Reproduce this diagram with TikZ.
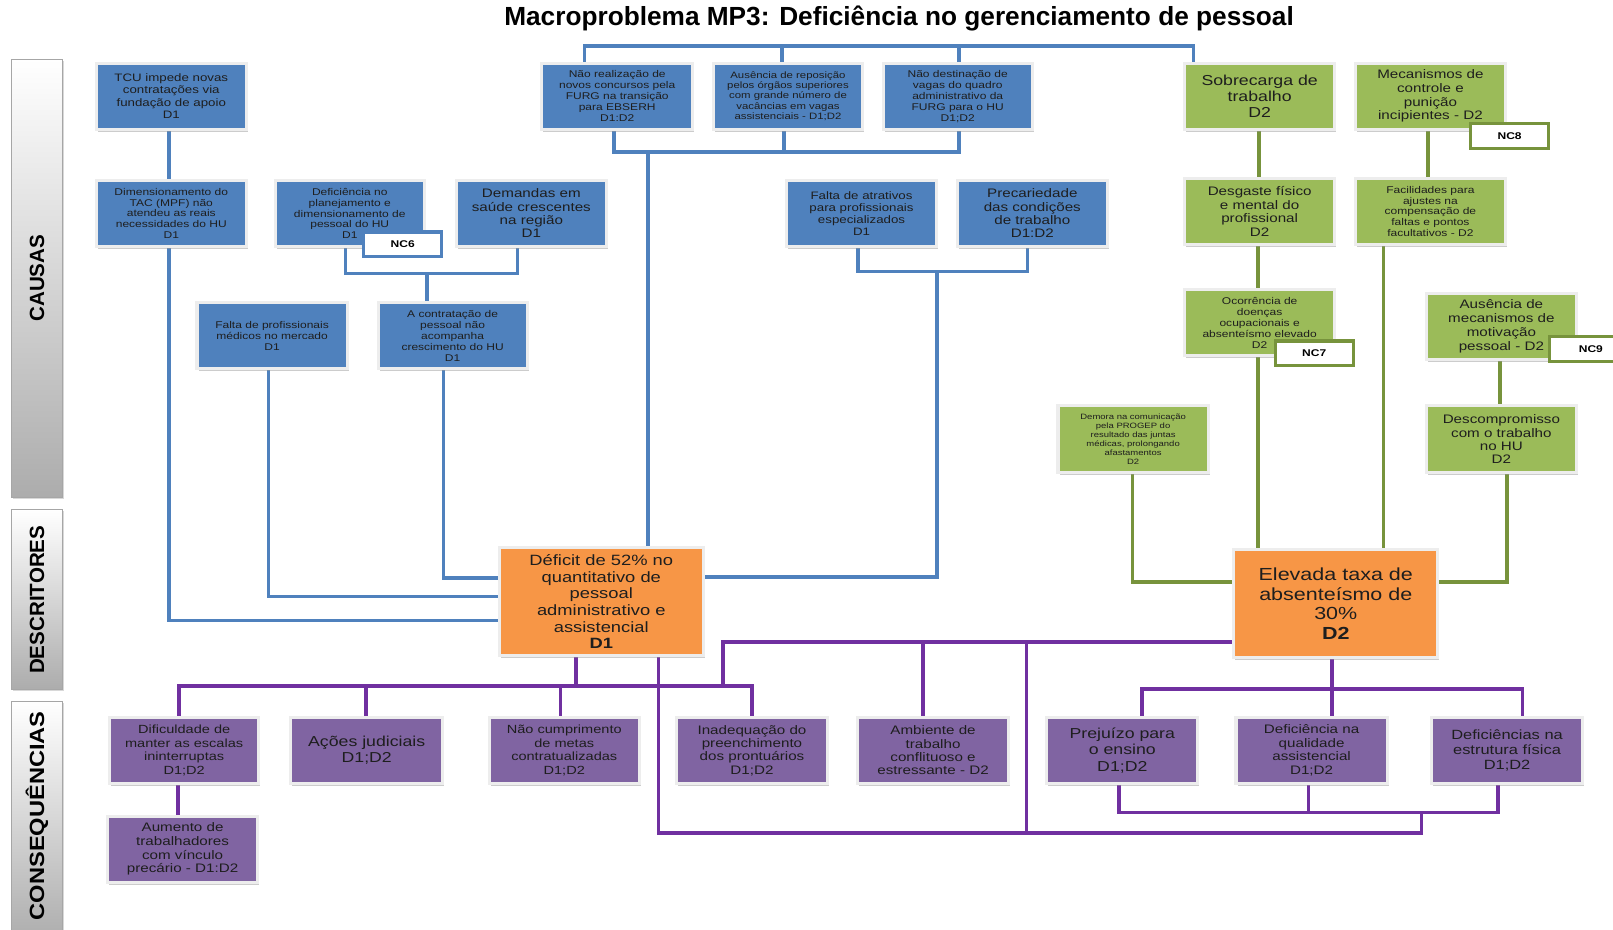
\documentclass[tikz,border=0pt]{standalone}
\usepackage{fontspec}
\setmainfont{Liberation Sans}
\newfontfamily\bx[FakeStretch=1.23]{Liberation Sans}
\newfontfamily\bq[FakeStretch=1.15]{Liberation Sans}
\usetikzlibrary{shadows,backgrounds,calc}
\definecolor{bfill}{HTML}{4F81BD}
\definecolor{bline}{HTML}{4F81BD}
\definecolor{gfill}{HTML}{9BBB59}
\definecolor{gline}{HTML}{77933C}
\definecolor{pfill}{HTML}{8064A2}
\definecolor{pline}{HTML}{7030A0}
\definecolor{ofill}{HTML}{F79646}
\definecolor{txt}{HTML}{1E1E1E}
\newcommand{\fs}[2]{\fontsize{#1pt}{#2pt}\selectfont}
\newcommand{\fb}[2]{\bx\fontsize{#1pt}{#2pt}\selectfont}
\begin{document}
\begin{tikzpicture}[x=1pt,y=-1pt,
 box/.style={anchor=north west, draw=white!93!black, line width=3pt, inner sep=1pt, align=center, text=txt,
   minimum width=146pt, minimum height=64pt,
   drop shadow={shadow xshift=1.5pt,shadow yshift=-2.5pt,fill=black!40}},
 bbox/.style={box, fill=bfill},
 gbox/.style={box, fill=gfill},
 pbox/.style={box, fill=pfill},
 obox/.style={box, fill=ofill, minimum width=198pt, minimum height=105pt},
 tag/.style={anchor=north west, draw=#1, fill=white, line width=3pt, minimum width=76pt, minimum height=24pt, inner sep=0pt, font=\fb{9.5}{10}\bfseries},
 bl/.style={draw=bline, line width=3.5pt},
 gl/.style={draw=gline, line width=3.5pt},
 pl/.style={draw=pline, line width=3.5pt},
 band/.style={anchor=north west, minimum width=49pt, draw=gray!70, line width=1pt, top color=white, bottom color=gray!65,
   drop shadow={shadow xshift=1.5pt,shadow yshift=-1.5pt,fill=black!30}},
 bandtxt/.style={rotate=90, font=\fs{20}{22}\bfseries, text=black}
]
\useasboundingbox (0,0) rectangle (1568,904);

% title
\node[font=\fs{25.5}{28}\bfseries] (title) at (874,18) {Macroproblema MP3: Deficiência no gerenciamento de pessoal};

% side bands
\node[band, minimum height=426pt] (bc) at (11,57) {};
\node[bandtxt] (tc) at (bc.center) {CAUSAS};
\node[band, minimum height=175pt] (bd) at (11,495) {};
\node[bandtxt] (td) at (bd.center) {DESCRITORES};
\node[band, minimum height=235pt] (bq) at (11,681) {};
\node[bandtxt, font=\bq\fs{20}{22}\bfseries] (tq) at ([yshift=6pt]bq.center) {CONSEQUÊNCIAS};

% blue boxes
\node[bbox, font=\fb{10.5}{12}] (tcu) at (92,60) {TCU impede novas\\contratações via\\fundação de apoio\\D1};
\node[bbox, font=\fb{9.5}{10.7}, minimum width=147pt] (nr) at (525,60) {Não realização de\\novos concursos pela\\FURG na transição\\para EBSERH\\D1:D2};
\node[bbox, font=\fb{9}{9.8}, minimum width=145pt] (ar) at (692,60) {Ausência de reposição\\pelos órgãos superiores\\com grande número de\\vacâncias em vagas\\assistenciais - D1;D2};
\node[bbox, font=\fb{9.5}{10.7}, minimum width=145pt] (nd) at (857,60) {Não destinação de\\vagas do quadro\\administrativo da\\FURG para o HU\\D1;D2};
\node[bbox, font=\fb{9.5}{10.5}] (dim) at (92,174) {Dimensionamento do\\TAC (MPF) não\\atendeu as reais\\necessidades do HU\\D1};
\node[bbox, font=\fb{9.5}{10.5}, minimum width=145pt] (dp) at (266,174) {Deficiência no\\planejamento e\\dimensionamento de\\pessoal do HU\\D1};
\node[bbox, font=\fb{12}{13}] (dem) at (442,174) {Demandas em\\saúde crescentes\\na região\\D1};
\node[bbox, font=\fb{10.5}{11.7}] (fa) at (763,174) {Falta de atrativos\\para profissionais\\especializados\\D1};
\node[bbox, font=\fb{12}{13}] (prc) at (929,174) {Precariedade\\das condições\\de trabalho\\D1:D2};
\node[bbox, font=\fb{9.5}{11}] (fp) at (190,293) {Falta de profissionais\\médicos no mercado\\D1};
\node[bbox, font=\fb{9.5}{10.7}, minimum width=145pt] (ac) at (366,293) {A contratação de\\pessoal não\\acompanha\\crescimento do HU\\D1};

% green boxes
\node[gbox, font=\fb{14}{15.5}] (sob) at (1150,60) {Sobrecarga de\\trabalho\\D2};
\node[gbox, font=\fb{12}{13.3}] (mec) at (1316,60) {Mecanismos de\\controle e\\punição\\incipientes - D2};
\node[gbox, font=\fb{12}{13.3}] (des) at (1150,172) {Desgaste físico\\e mental do\\profissional\\D2};
\node[gbox, font=\fb{9.5}{10.3}] (fac) at (1316,172) {Facilidades para\\ajustes na\\compensação de\\faltas e pontos\\facultativos - D2};
\node[gbox, font=\fb{9.5}{10.7}] (oco) at (1150,280) {Ocorrência de\\doenças\\ocupacionais e\\absenteísmo elevado\\D2};
\node[gbox, font=\fb{12}{13.5}] (aus) at (1385,284) {Ausência de\\mecanismos de\\motivação\\pessoal - D2};
\node[gbox, font=\fb{7.5}{8.6}, minimum height=65pt] (dmr) at (1027,393) {Demora na comunicação\\pela PROGEP do\\resultado das juntas\\médicas, prolongando\\afastamentos\\D2};
\node[gbox, font=\fb{12}{13}, minimum height=65pt] (dsc) at (1385,393) {Descompromisso\\com o trabalho\\no HU\\D2};

% tags
\node[tag=bline] (nc6) at (352,224) {NC6};
\node[tag=gline] (nc8) at (1428,119) {NC8};
\node[tag=gline] (nc7) at (1238,330) {NC7};
\node[tag=gline, minimum width=80pt] (nc9) at (1505,326) {NC9};

% orange boxes
\node[obox, font=\fb{14.5}{16.2}] (def) at (484,531) {Déficit de 52\% no\\quantitativo de\\pessoal\\administrativo e\\assistencial\\\textbf{D1}};
\node[obox, font=\fb{17}{19}] (ele) at (1198,533) {Elevada taxa de\\absenteísmo de\\30\%\\\textbf{D2}};

% purple boxes
\node[pbox, font=\fb{11.5}{13}, minimum width=145pt] (dif) at (105,696) {Dificuldade de\\manter as escalas\\ininterruptas\\D1;D2};
\node[pbox, font=\fb{14}{16}, minimum width=148pt] (acj) at (281,696) {Ações judiciais\\D1;D2};
\node[pbox, font=\fb{11.5}{13}] (ncm) at (474,696) {Não cumprimento\\de metas\\contratualizadas\\D1;D2};
\node[pbox, font=\fb{12}{13}, minimum width=147pt] (ina) at (656,696) {Inadequação do\\preenchimento\\dos prontuários\\D1;D2};
\node[pbox, font=\fb{12}{13}, minimum width=147pt] (amb) at (832,696) {Ambiente de\\trabalho\\conflituoso e\\estressante - D2};
\node[pbox, font=\fb{14}{16}, minimum width=147pt] (pre) at (1016,696) {Prejuízo para\\o ensino\\D1;D2};
\node[pbox, font=\fb{12}{13.3}, minimum width=147pt] (dqa) at (1200,696) {Deficiência na\\qualidade\\assistencial\\D1;D2};
\node[pbox, font=\fb{13}{14.5}, minimum width=147pt] (dest) at (1390,696) {Deficiências na\\estrutura física\\D1;D2};
\node[pbox, font=\fb{12}{13.3}] (aum) at (103,792) {Aumento de\\trabalhadores\\com vínculo\\precário - D1:D2};

\begin{scope}[on background layer]
% ---- blue connectors
\coordinate (tb1) at (568,45); \coordinate (tb2) at (760,45);
\coordinate (tb3) at (932,45); \coordinate (tb4) at (1160,45);
\draw[bl] (tb1 |- nr.north) -- (tb1) -- (tb4) -- (tb4 |- sob.north);
\draw[bl] (tb2) -- (tb2 |- ar.north);
\draw[bl] (tb3) -- (tb3 |- nd.north);
\coordinate (m1) at (597,148); \coordinate (m2) at (762,148);
\coordinate (m3) at (932,148); \coordinate (m4) at (630,148);
\draw[bl] (m1 |- nr.south) -- (m1) -- (m3) -- (m3 |- nd.south);
\draw[bl] (m2 |- ar.south) -- (m2);
\draw[bl] (m4) -- (m4 |- def.north);
\coordinate (c1) at (164,0);
\draw[bl] (tcu.south -| c1) -- (dim.north -| c1);
\coordinate (c2) at (164,603);
\draw[bl] (dim.south -| c2) -- (c2) -- (c2 -| def.west);
\coordinate (b1) at (336,266); \coordinate (b2) at (503,266); \coordinate (b3) at (415,266);
\draw[bl] (dp.south -| b1) -- (b1) -- (b2) -- (dem.south -| b2);
\draw[bl] (b3) -- (ac.north -| b3);
\coordinate (c3) at (261,580);
\draw[bl] (fp.south -| c3) -- (c3) -- (c3 -| def.west);
\coordinate (c4) at (431,562);
\draw[bl] (ac.south -| c4) -- (c4) -- (c4 -| def.west);
\coordinate (e1) at (834,264); \coordinate (e2) at (999,264);
\coordinate (e3) at (911,264); \coordinate (e4) at (911,561);
\draw[bl] (fa.south -| e1) -- (e1) -- (e2) -- (prc.south -| e2);
\draw[bl] (e3) -- (e4) -- (e4 -| def.east);
% ---- green connectors
\coordinate (g1) at (1224,0); \coordinate (g2) at (1388,0);
\coordinate (g3) at (1223,0); \coordinate (g4) at (1345,0);
\coordinate (g5) at (1458,0);
\draw[gl] (sob.south -| g1) -- (des.north -| g1);
\draw[gl] (mec.south -| g2) -- (fac.north -| g2);
\draw[gl] (des.south -| g3) -- (oco.north -| g3);
\draw[gl] (oco.south -| g3) -- (ele.north -| g3);
\draw[gl] (fac.south -| g4) -- (ele.north -| g4);
\draw[gl] (aus.south -| g5) -- (dsc.north -| g5);
\coordinate (g6) at (1465,566);
\draw[gl] (dsc.south -| g6) -- (g6) -- (g6 -| ele.east);
\coordinate (g7) at (1101,566);
\draw[gl] (dmr.south -| g7) -- (g7) -- (g7 -| ele.west);
% ---- purple connectors
\coordinate (p0) at (560,667);
\draw[pl] (def.south -| p0) -- (p0);
\coordinate (pa) at (174,667); \coordinate (pb) at (731,667);
\draw[pl] (dif.north -| pa) -- (pa) -- (pb) -- (ina.north -| pb);
\coordinate (pc1) at (356,667); \coordinate (pd) at (545,667);
\draw[pl] (pc1) -- (acj.north -| pc1);
\draw[pl] (pd) -- (ncm.north -| pd);
\coordinate (q1) at (703,624); \coordinate (q1b) at (703,667);
\draw[pl] (q1b) -- (q1) -- (q1 -| ele.west);
\coordinate (q2) at (897,624);
\draw[pl] (q2) -- (amb.north -| q2);
\coordinate (q3) at (998,624); \coordinate (q3b) at (998,810);
\draw[pl] (q3) -- (q3b);
\coordinate (r1) at (640,810); \coordinate (r2) at (1382,810); \coordinate (r3) at (1382,790);
\draw[pl] (def.south -| r1) -- (r1) -- (r2) -- (r3);
\coordinate (s1) at (1088,790); \coordinate (s2) at (1272,790); \coordinate (s3) at (1456,790);
\draw[pl] (pre.south -| s1) -- (s1) -- (s3) -- (dest.south -| s3);
\draw[pl] (dqa.south -| s2) -- (s2);
\coordinate (u0) at (1295,670); \coordinate (u1) at (1110,670); \coordinate (u3) at (1480,670);
\draw[pl] (ele.south -| u0) -- (u0) -- (dqa.north -| u0);
\draw[pl] (pre.north -| u1) -- (u1) -- (u3) -- (dest.north -| u3);
\coordinate (v) at (173,0);
\draw[pl] (dif.south -| v) -- (aum.north -| v);
\end{scope}
\end{tikzpicture}
\end{document}
